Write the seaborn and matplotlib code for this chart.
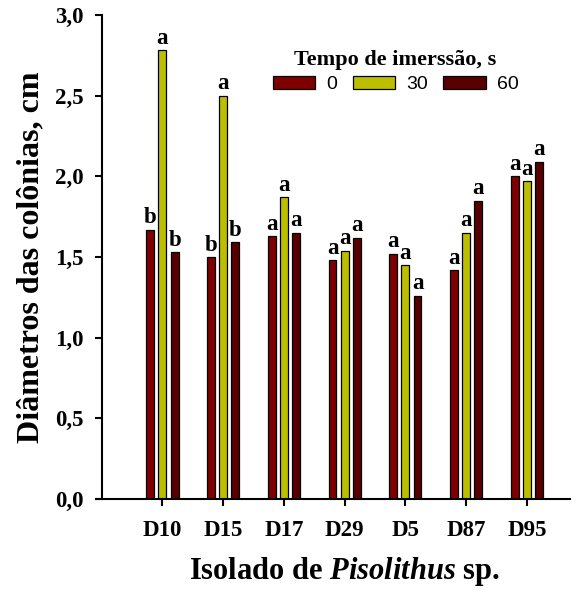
import matplotlib
matplotlib.use("Agg")
import matplotlib.pyplot as plt
import seaborn as sns
import pandas as pd

isolates = ["D10", "D15", "D17", "D29", "D5", "D87", "D95"]
tempos = ["0", "30", "60"]
vals_0 = [1.67, 1.50, 1.63, 1.48, 1.52, 1.42, 2.00]
vals_30 = [2.78, 2.50, 1.87, 1.54, 1.45, 1.65, 1.97]
vals_60 = [1.53, 1.59, 1.65, 1.62, 1.26, 1.85, 2.09]
letters_0 = ["b", "b", "a", "a", "a", "a", "a"]
letters_30 = ["a", "a", "a", "a", "a", "a", "a"]
letters_60 = ["b", "b", "a", "a", "a", "a", "a"]
yticks = [0.0, 0.5, 1.0, 1.5, 2.0, 2.5, 3.0]
ytick_labels = ["0,0", "0,5", "1,0", "1,5", "2,0", "2,5", "3,0"]

sns.set_style("ticks")
plt.rcParams["font.family"] = ["Liberation Serif", "DejaVu Serif"]
plt.rcParams["text.color"] = "black"
plt.rcParams["axes.labelcolor"] = "black"
plt.rcParams["xtick.color"] = "black"
plt.rcParams["ytick.color"] = "black"
plt.rcParams["mathtext.fontset"] = "custom"
plt.rcParams["mathtext.it"] = "Liberation Serif:italic:bold"
plt.rcParams["mathtext.rm"] = "Liberation Serif:bold"

rows = []
for t, vs in zip(tempos, [vals_0, vals_30, vals_60]):
    for iso, v in zip(isolates, vs):
        rows.append({"isolate": iso, "tempo": t, "value": v})
df = pd.DataFrame(rows)

palette = {"0": "#7f0000", "30": "#bbbf00", "60": "#580000"}

fig = plt.figure(figsize=(5.84, 5.94), dpi=100)
ax = fig.add_axes([96 / 584, 1 - 499 / 594, (570 - 96) / 584, (499 - 15) / 594])

sns.barplot(data=df, x="isolate", y="value", hue="tempo", order=isolates,
            hue_order=tempos, palette=palette, width=0.6, gap=0.35,
            edgecolor="black", linewidth=0.9, saturation=1, ax=ax)

for cont, labs in zip(ax.containers, [letters_0, letters_30, letters_60]):
    ax.bar_label(cont, labels=labs, padding=1, fontsize=16.5, fontweight="bold",
                 family=["Liberation Serif"], color="black")

ax.set_xlim(-1.094, 6.71)
ax.set_ylim(0, 3.0)
ax.spines["left"].set_position(("data", -1.0))
ax.spines["top"].set_visible(False)
ax.spines["right"].set_visible(False)
for s in ["left", "bottom"]:
    ax.spines[s].set_linewidth(1.5)
    ax.spines[s].set_color("black")
ax.tick_params(axis="both", direction="out", length=5, width=1.5, colors="black")
ax.set_yticks(yticks)
ax.set_yticklabels(ytick_labels, fontsize=16.5, fontweight="bold")
ax.set_xticks(range(len(isolates)))
ax.set_xticklabels(isolates, fontsize=16.5, fontweight="bold")
ax.tick_params(axis="x", pad=10)
ax.tick_params(axis="y", pad=8)

ax.set_ylabel("Diâmetros das colônias, cm", fontsize=23, fontweight="bold", labelpad=7)
ax.set_xlabel(r"Isolado de $\it{Pisolithus}$ sp.", fontsize=22, fontweight="bold")
ax.xaxis.set_label_coords(0.525, -0.115)

leg = ax.legend(title="Tempo de imerssão, s", ncol=3, loc="upper center",
                bbox_to_anchor=(0.632, 0.96), frameon=False,
                prop={"family": "Liberation Sans", "size": 14},
                handlelength=2.2, handleheight=0.7, columnspacing=0.8,
                handletextpad=0.55, borderpad=0.3, labelspacing=0.3)
leg.get_title().set_fontweight("bold")
leg.get_title().set_fontsize(16)
leg.get_title().set_family("Liberation Serif")
leg.get_title().set_color("black")
for t in leg.get_texts():
    t.set_color("black")

fig.savefig("out.png", dpi=100)
